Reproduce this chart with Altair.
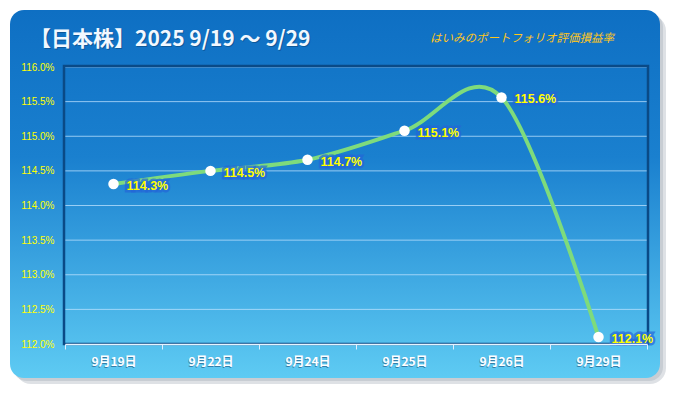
import altair as alt
import pandas as pd

dates = ["9月19日", "9月22日", "9月24日", "9月25日", "9月26日", "9月29日"]
values = [114.31, 114.50, 114.66, 115.08, 115.56, 112.10]
y_ticks = [112.0, 112.5, 113.0, 113.5, 114.0, 114.5, 115.0, 115.5, 116.0]
title_text = "【日本株】2025 9/19 〜 9/29"
subtitle_text = "はいみのポートフォリオ評価損益率"

W, H = 582, 277

df = pd.DataFrame({"date": dates, "value": values})
df["label"] = [f"{v:.1f}%" for v in values]
grid_df = pd.DataFrame({"value": y_ticks[1:]})
one = pd.DataFrame({"a": [0]})

xenc = alt.X("date:N", sort=dates, title=None,
             scale=alt.Scale(type="band", paddingInner=0, paddingOuter=0),
             axis=alt.Axis(labelColor="white", labelFont="Noto Sans CJK JP",
                           labelFontSize=12, labelFontWeight="bold", labelAngle=0,
                           labelPadding=7, tickBand="extent", tickColor="#DDEEFF",
                           tickSize=5, tickWidth=1, domainColor="#E6F4FF",
                           domainWidth=1.5, grid=False, zindex=1))
yaxis = alt.Axis(values=y_ticks, labelExpr="format(datum.value, '.1f') + '%'",
                 labelColor="#FFFF00", labelFont="Liberation Sans",
                 labelFontSize=10, labelPadding=11, ticks=False,
                 labelOverlap=False, labelFlush=False,
                 domain=False, grid=False, zindex=1)
yscale = alt.Scale(domain=[112, 116], nice=False, zero=False)
yenc = alt.Y("value:Q", title=None, scale=yscale, axis=yaxis)

grad = alt.LinearGradient(gradient="linear", x1=0, x2=0, y1=0, y2=1,
                          stops=[alt.GradientStop(offset=0, color="#0E6FC3"),
                                 alt.GradientStop(offset=0.4, color="#1A80CF"),
                                 alt.GradientStop(offset=1, color="#5ECBF3")])

shadow2 = alt.Chart(one).mark_rect(cornerRadius=16, color="#D6DADE", opacity=0.8).encode(
    x=alt.value(-50), x2=alt.value(601), y=alt.value(-52), y2=alt.value(317))
shadow = alt.Chart(one).mark_rect(cornerRadius=14, color="#C2C8CE", opacity=0.8).encode(
    x=alt.value(-52), x2=alt.value(598), y=alt.value(-54), y2=alt.value(314))
box = alt.Chart(one).mark_rect(cornerRadius=14, color=grad).encode(
    x=alt.value(-55), x2=alt.value(595), y=alt.value(-57), y2=alt.value(311))

grid = alt.Chart(grid_df).mark_rule(color="#BFE3FF", strokeWidth=1, opacity=0.75).encode(
    y=yenc, x=alt.value(0), x2=alt.value(W))

frame = alt.Chart(one).mark_rect(fill=None, stroke="#0A4A86", strokeWidth=2.5).encode(
    x=alt.value(-1), x2=alt.value(W + 1), y=alt.value(-1), y2=alt.value(H))

title_shadow = alt.Chart(one).mark_text(text=title_text, align="left", baseline="middle",
                                        font="Noto Sans CJK JP", fontSize=21, fontWeight="bold",
                                        color="#0A3E6E", opacity=0.5).encode(
    x=alt.value(-34), y=alt.value(-26))
title = alt.Chart(one).mark_text(text=title_text, align="left", baseline="middle",
                                 font="Noto Sans CJK JP", fontSize=21, fontWeight="bold",
                                 color="#F2F8FF").encode(
    x=alt.value(-35), y=alt.value(-27))
subtitle = alt.Chart(one).mark_text(text=subtitle_text, align="left", baseline="middle",
                                    font="Noto Sans CJK JP", fontSize=11.5, fontStyle="italic",
                                    color="#FFC61A").encode(
    x=alt.value(365), y=alt.value(-28))

xlab_shadow = alt.Chart(df).mark_text(font="Noto Sans CJK JP", fontSize=12, fontWeight="bold",
                                      color="#1A4F7A", opacity=0.6, baseline="top").encode(
    x=xenc, y=alt.value(H + 14), text="date:N")

line = alt.Chart(df).mark_line(interpolate="cardinal", color="#7EDB7C", strokeWidth=4).encode(
    x=xenc, y=yenc)
pts = alt.Chart(df).mark_point(filled=True, color="white", size=110, opacity=1).encode(
    x=xenc, y=yenc)
lab_glow = alt.Chart(df).mark_text(align="left", baseline="middle", dx=13, dy=2,
                                   font="Liberation Sans", fontSize=12.5, fontWeight="bold",
                                   stroke="#2366D8", strokeWidth=5, strokeOpacity=0.7,
                                   color="#2366D8").encode(x=xenc, y=yenc, text="label:N")
lab = alt.Chart(df).mark_text(align="left", baseline="middle", dx=13, dy=2,
                              font="Liberation Sans", fontSize=12.5, fontWeight="bold",
                              color="#FFFF00").encode(x=xenc, y=yenc, text="label:N")

chart = alt.layer(shadow2, shadow, box, grid, frame, title_shadow, title, subtitle, xlab_shadow,
                  line, pts, lab_glow, lab).properties(
    width=W, height=H,
    padding={"left": 57, "top": 59, "right": 20, "bottom": 41},
    autosize=alt.AutoSizeParams(type="none"),
    background="white",
).configure_view(stroke=None)

chart.save("out.html", embed_options={"renderer": "svg", "actions": False})
